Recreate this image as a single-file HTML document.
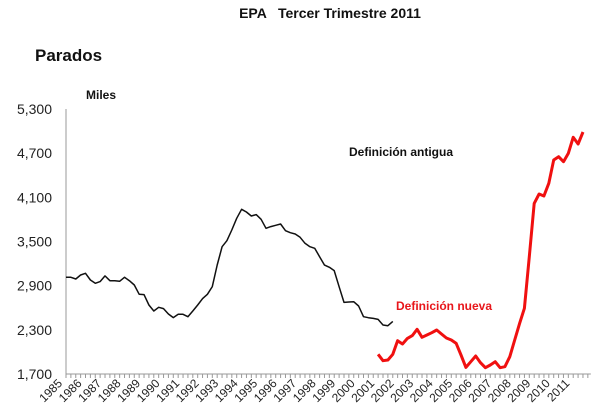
<!DOCTYPE html>
<html><head><meta charset="utf-8">
<style>
html,body{margin:0;padding:0;background:#fff;}
svg{display:block;font-family:"Liberation Sans",Arial,sans-serif;}
</style></head>
<body>
<svg id="chart" width="600" height="420" viewBox="0 0 600 420" xmlns="http://www.w3.org/2000/svg">
  <text x="330" y="18" text-anchor="middle" font-size="14" font-weight="bold" fill="#111">EPA &#160;&#160;Tercer Trimestre 2011</text>
  <text x="35" y="61" font-size="17" font-weight="bold" fill="#111">Parados</text>
  <text x="86" y="99" font-size="12" font-weight="bold" fill="#111">Miles</text>
  <text x="349" y="156" font-size="12" font-weight="bold" fill="#111">Definición antigua</text>
  <text x="396" y="310" font-size="12" font-weight="bold" fill="#e8161b">Definición nueva</text>
  <g id="axes"></g>
  <g id="series"></g>
</svg>
<script>
const yTicks = [1700, 2300, 2900, 3500, 4100, 4700, 5300];
const years = ["1985","1986","1987","1988","1989","1990","1991","1992","1993","1994","1995","1996","1997","1998","1999","2000","2001","2002","2003","2004","2005","2006","2007","2008","2009","2010","2011"];
const oldStart = 0;
const oldValues = [3013,3013,2991,3045,3068,2977,2932,2955,3032,2968,2968,2959,3013,2968,2909,2783,2778,2638,2556,2606,2588,2515,2466,2511,2511,2479,2556,2638,2724,2783,2887,3181,3430,3511,3656,3815,3937,3901,3847,3865,3801,3679,3702,3720,3738,3647,3620,3602,3557,3475,3430,3407,3294,3180,3149,3104,2886,2673,2678,2682,2624,2479,2465,2456,2442,2365,2356,2415];
const newStart = 64;
const newValues = [1967,1881,1890,1967,2153,2107,2184,2221,2307,2198,2230,2261,2298,2243,2189,2162,2116,1958,1790,1867,1944,1854,1786,1822,1867,1786,1799,1935,2162,2388,2592,3294,4018,4145,4118,4290,4607,4652,4584,4697,4915,4824,4987];

const X0 = 66, XSTEP = 4.877, Y0 = 374, Y1 = 109, VMIN = 1700, VMAX = 5300;
function xScale(i){ return X0 + i * XSTEP; }
function yScale(v){ return Y0 - (v - VMIN) / (VMAX - VMIN) * (Y0 - Y1); }
const NS = "http://www.w3.org/2000/svg";
const axes = document.getElementById("axes");
const series = document.getElementById("series");
function mk(tag, attrs, parent){ const e = document.createElementNS(NS, tag); for (const k in attrs) e.setAttribute(k, attrs[k]); parent.appendChild(e); return e; }

const yAxis = mk("line", {x1:X0, y1:Y1, x2:X0, y2:Y0, stroke:"#999", "stroke-width":1}, axes);


const nQ = years.length * 4;
const xAxis = mk("line", {x1:X0, y1:Y0, x2:xScale(nQ - 1) + 3, y2:Y0, stroke:"#999", "stroke-width":1}, axes);


for (let i = 0; i < nQ; i++) {
  const t = mk("line", {x1:xScale(i), y1:Y0, x2:xScale(i), y2:Y0 + 4, stroke:"#999", "stroke-width":1}, axes);
  
  
}
yTicks.forEach(v => {
  const t = mk("text", {x:52, y:yScale(v) + 5, "text-anchor":"end", "font-size":14, fill:"#222"}, axes);
  t.textContent = v.toLocaleString("en-US");
  
  
});
years.forEach((yr, k) => {
  const x = xScale(k * 4) - 3, y = Y0 + 10;
  const t = mk("text", {x:x, y:y, "text-anchor":"end", "font-size":12, fill:"#222", transform:"rotate(-45 " + x + " " + y + ")"}, axes);
  t.textContent = yr;
  
  
});
function pts(vals, start){ return vals.map((v, i) => xScale(start + i).toFixed(1) + "," + yScale(v).toFixed(1)).join(" "); }
const oldLine = mk("polyline", {points:pts(oldValues, oldStart), fill:"none", stroke:"#111", "stroke-width":1.5, "stroke-linejoin":"round"}, series);


const newLine = mk("polyline", {points:pts(newValues, newStart), fill:"none", stroke:"#f01010", "stroke-width":3, "stroke-linejoin":"round"}, series);


</script>
</body></html>
